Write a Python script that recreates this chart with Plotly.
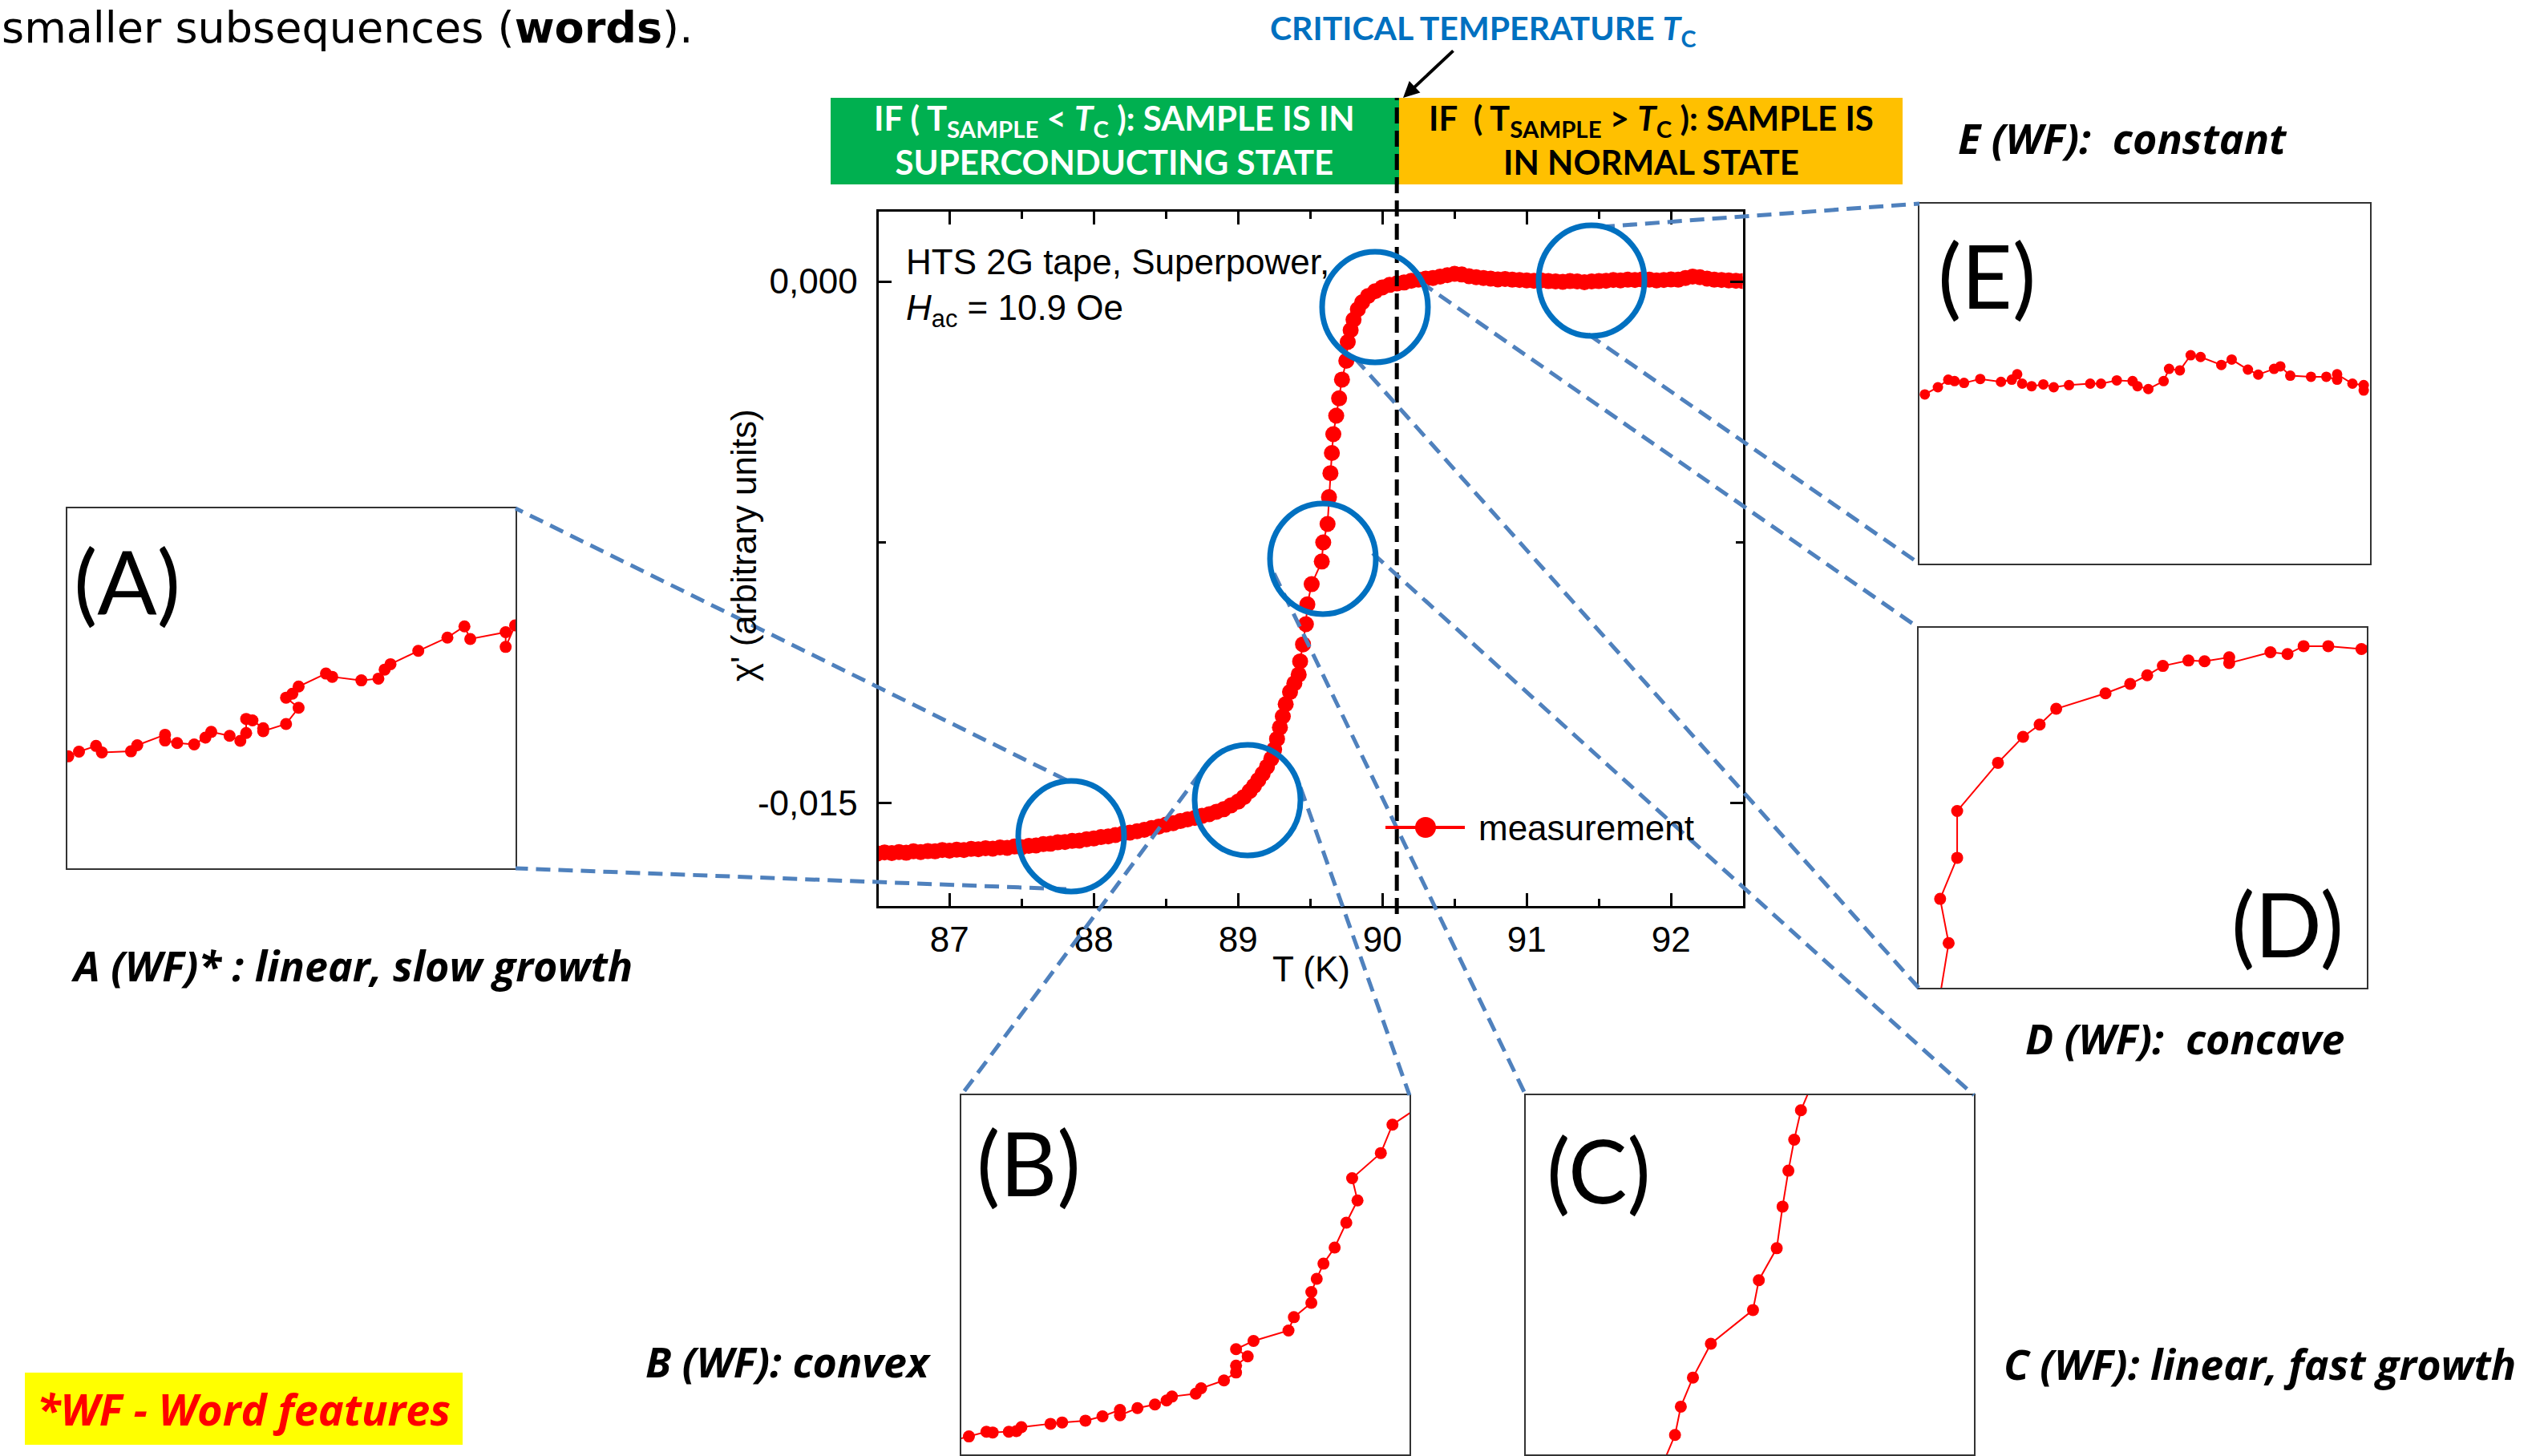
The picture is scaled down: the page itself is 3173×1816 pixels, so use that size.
import plotly.graph_objects as go

W, H = 3173, 1816

# ---------------- data ----------------
# main curve: temperature (K) and chi' (x 1e-3 arbitrary units)
T_main = [86.50, 86.55, 86.60, 86.65, 86.70, 86.75, 86.80, 86.85, 86.90, 86.95,
          87.00, 87.05, 87.10, 87.15, 87.20, 87.25, 87.30, 87.35, 87.40, 87.45,
          87.50, 87.55, 87.60, 87.65, 87.70, 87.75, 87.80, 87.85, 87.90, 87.95,
          88.00, 88.05, 88.10, 88.15, 88.20, 88.25, 88.30, 88.35, 88.40, 88.45,
          88.50, 88.55, 88.60, 88.65, 88.70, 88.75, 88.80, 88.85, 88.90, 88.95,
          89.00, 89.04, 89.08, 89.11, 89.14, 89.17, 89.20, 89.23, 89.25, 89.27,
          89.29, 89.31, 89.33, 89.36, 89.39, 89.42, 89.43, 89.45, 89.47, 89.48,
          89.51, 89.58, 89.59, 89.62, 89.63, 89.64, 89.65, 89.66, 89.68, 89.70,
          89.72, 89.75, 89.76, 89.78, 89.80, 89.83, 89.86, 89.90, 89.95, 90.00,
          90.05, 90.10, 90.15, 90.20, 90.25, 90.30, 90.35, 90.40, 90.45, 90.50,
          90.55, 90.60, 90.65, 90.70, 90.75, 90.80, 90.85, 90.90, 90.95, 91.00,
          91.05, 91.10, 91.15, 91.20, 91.25, 91.30, 91.35, 91.40, 91.45, 91.50,
          91.55, 91.60, 91.65, 91.70, 91.75, 91.80, 91.85, 91.90, 91.95, 92.00,
          92.05, 92.10, 92.15, 92.20, 92.25, 92.30, 92.35, 92.40, 92.45, 92.50]
chi_main_milli = [-16.44, -16.41, -16.43, -16.40, -16.42, -16.38, -16.40, -16.37, -16.38, -16.34,
                  -16.36, -16.33, -16.34, -16.31, -16.32, -16.29, -16.30, -16.27, -16.28, -16.24,
                  -16.26, -16.22, -16.21, -16.17, -16.16, -16.12, -16.11, -16.08, -16.07, -16.03,
                  -16.01, -15.97, -15.95, -15.91, -15.87, -15.84, -15.80, -15.76, -15.71, -15.67,
                  -15.61, -15.57, -15.51, -15.46, -15.42, -15.36, -15.31, -15.24, -15.17, -15.06,
                  -14.95, -14.82, -14.65, -14.50, -14.33, -14.15, -13.95, -13.72, -13.45, -13.15,
                  -12.82, -12.50, -12.15, -11.80, -11.55, -11.30, -10.92, -10.43, -9.85, -9.28,
                  -8.70, -8.05, -7.50, -6.97, -6.20, -5.51, -4.93, -4.39, -3.86, -3.36,
                  -2.82, -2.28, -1.74, -1.40, -1.10, -0.80, -0.60, -0.42, -0.28, -0.17,
                  -0.10, -0.06, -0.03, 0.02, 0.05, 0.08, 0.10, 0.14, 0.18, 0.22,
                  0.20, 0.15, 0.12, 0.10, 0.08, 0.06, 0.07, 0.05, 0.04, 0.03,
                  0.02, 0.03, 0.01, 0.00, -0.01, 0.01, 0.00, -0.02, 0.00, 0.01,
                  0.02, 0.04, 0.03, 0.05, 0.04, 0.06, 0.05, 0.03, 0.04, 0.06,
                  0.05, 0.10, 0.14, 0.12, 0.08, 0.05, 0.04, 0.03, 0.02, 0.01]

x_ticks = [87, 88, 89, 90, 91, 92]
y_ticks = [-0.015, 0.0]
y_tick_text = ["-0,015", "0,000"]
T_critical = 90.1
series_name = "measurement"

# zoomed windows (local units 0..100 inside each inset)
A_u = [0.2, 2.6, 6.4, 7.7, 14.2, 15.6, 21.8, 21.8, 24.5, 28.3, 30.8, 32.1, 36.2, 38.6, 39.9,
       39.9, 41.3, 43.7, 43.7, 48.8, 51.6, 48.8, 50.2, 51.6, 57.7, 59.1, 65.6, 69.4, 70.8,
       72.1, 78.3, 84.8, 88.6, 89.9, 97.8, 97.8, 99.9]
A_v = [31.1, 32.4, 34.0, 32.2, 32.5, 34.2, 37.1, 35.5, 34.8, 34.4, 36.3, 37.9, 36.8, 35.4, 37.6,
       41.5, 41.1, 38.9, 38.1, 40.1, 44.6, 47.4, 48.5, 50.5, 54.1, 53.2, 52.2, 52.7, 55.2,
       56.7, 60.4, 64.1, 67.2, 63.7, 65.6, 61.5, 67.5]

B_u = [-3.0, 1.7, 5.6, 7.0, 10.6, 12.3, 13.4, 19.9, 22.5, 27.7, 31.5, 35.4, 35.4, 39.3, 43.2,
       45.8, 47.0, 52.3, 53.5, 58.6, 61.3, 61.3, 63.9, 61.3, 65.2, 73.0, 74.2, 78.1, 78.1,
       79.3, 80.8, 83.3, 85.9, 88.4, 87.2, 93.6, 96.2, 103.0]
B_v = [3.5, 5.0, 6.3, 6.1, 6.3, 6.5, 7.6, 8.5, 8.9, 9.4, 10.6, 12.4, 10.9, 12.9, 13.9,
       15.0, 16.1, 16.9, 18.4, 20.6, 22.8, 24.7, 27.3, 29.3, 31.6, 34.5, 38.2, 42.2, 45.2,
       48.9, 53.1, 57.6, 64.5, 70.7, 76.9, 83.9, 91.8, 97.5]

C_u = [30.8, 33.3, 34.6, 37.3, 41.3, 50.7, 52.0, 56.0, 57.3, 58.6, 59.9, 61.4, 63.5]
C_v = [-2.0, 5.4, 13.3, 21.4, 30.8, 40.2, 48.5, 57.4, 69.0, 79.0, 87.6, 95.8, 102.0]

D_u = [4.8, 6.7, 4.8, 8.6, 8.6, 17.7, 23.3, 27.0, 30.7, 41.7, 47.2, 51.0, 54.5, 60.2, 63.8,
       69.3, 69.3, 78.5, 82.3, 85.9, 91.4, 98.8, 101.0]
D_v = [-2.0, 12.4, 24.7, 36.1, 49.1, 62.5, 69.7, 73.1, 77.5, 81.8, 84.4, 86.8, 89.4, 90.9, 90.7,
       91.8, 90.2, 93.2, 92.7, 94.9, 94.9, 94.1, 94.2]

E_u = [1.2, 4.1, 6.4, 7.8, 9.9, 13.5, 18.1, 20.5, 21.7, 22.8, 24.9, 27.5, 29.8, 33.2, 37.9,
       40.3, 43.8, 47.3, 48.4, 50.8, 54.2, 55.4, 57.8, 60.2, 62.4, 67.0, 69.3, 72.9, 75.2,
       78.7, 80.1, 82.3, 86.9, 90.3, 92.7, 92.7, 96.1, 98.6, 98.6]
E_v = [47.0, 49.0, 51.1, 50.7, 50.2, 51.3, 50.5, 51.1, 52.6, 50.0, 49.3, 49.8, 49.0, 49.6, 50.0,
       50.0, 50.9, 50.7, 49.3, 48.5, 50.7, 54.1, 53.7, 57.9, 57.4, 55.2, 56.7, 53.9, 52.5,
       54.1, 54.8, 52.2, 51.9, 51.9, 51.1, 52.6, 50.0, 49.6, 48.1]

# ---------------- helpers (pixel -> paper) ----------------
def fx(x):
    return x / W


def fy(y):
    return 1 - y / H


RED = "#FF0000"
BLUE_RING = "#0070C0"
BLUE_DASH = "#4F81BD"
ARIAL = "Liberation Sans, Arial"
CAL = "Lato"
CALI = "Open Sans"

fig = go.Figure()

fig.add_trace(go.Scatter(
    x=T_main, y=[v * 1e-3 for v in chi_main_milli], mode="lines+markers",
    name=series_name, showlegend=False,
    marker=dict(color=RED, size=20, line=dict(width=0)),
    line=dict(color=RED, width=2), xaxis="x", yaxis="y"))

insets = [
    ("x2", "y2", A_u, A_v, 15, (84, 643, 634, 1083)),
    ("x3", "y3", B_u, B_v, 15, (1199, 1758, 1366, 1814)),
    ("x4", "y4", C_u, C_v, 15, (1903, 2462, 1366, 1814)),
    ("x5", "y5", D_u, D_v, 15, (2393, 2952, 783, 1232)),
    ("x6", "y6", E_u, E_v, 13, (2394, 2956, 254, 703)),
]
for xa, ya, u, v, ms, _ in insets:
    fig.add_trace(go.Scatter(x=u, y=v, mode="lines+markers", showlegend=False,
                             marker=dict(color=RED, size=ms, line=dict(width=0)),
                             line=dict(color=RED, width=2), xaxis=xa, yaxis=ya))

layout = dict(
    width=W, height=H, autosize=False,
    margin=dict(l=0, r=0, t=0, b=0, pad=0),
    paper_bgcolor="white", plot_bgcolor="white",
    showlegend=False,
    xaxis=dict(domain=[fx(1095.5), fx(2173.6)], range=[86.507, 92.497],
               tickvals=x_ticks, ticks="inside", ticklen=16, tickwidth=2.5, tickcolor="black",
               minor=dict(dtick=0.5, tick0=87, ticks="inside", ticklen=9, tickwidth=2.5, tickcolor="black"),
               showline=True, linewidth=3, linecolor="black", mirror="allticks",
               showgrid=False, zeroline=False, ticklabelstandoff=1,
               tickfont=dict(family=ARIAL, size=44, color="black"), anchor="y"),
    yaxis=dict(domain=[fy(1130), fy(264)], range=[-0.01795, 0.002005],
               tickvals=y_ticks, ticktext=y_tick_text, ticks="inside", ticklen=16, tickwidth=2.5,
               tickcolor="black",
               minor=dict(dtick=0.0075, tick0=0, ticks="inside", ticklen=9, tickwidth=2.5, tickcolor="black"),
               showline=True, linewidth=3, linecolor="black", mirror="allticks",
               showgrid=False, zeroline=False, ticklabelstandoff=14,
               tickfont=dict(family=ARIAL, size=44, color="black"), anchor="x"),
)
for i, (xa, ya, u, v, ms, box) in enumerate(insets):
    n = xa[1:]
    x0, x1, y0, y1 = box
    common = dict(showline=True, mirror=True, linewidth=2, linecolor="#333333",
                  showticklabels=False, ticks="", showgrid=False, zeroline=False,
                  range=[0, 100], fixedrange=True)
    layout["xaxis" + n] = dict(domain=[fx(x0), fx(x1)], anchor="y" + n, **common)
    layout["yaxis" + n] = dict(domain=[fy(y1), fy(y0)], anchor="x" + n, **common)

fig.update_layout(**layout)

shapes = []
# banner
shapes.append(dict(type="rect", xref="paper", yref="paper", x0=fx(1036), x1=fx(1745), y0=fy(230), y1=fy(122),
                   fillcolor="#00B050", line=dict(width=0), layer="below"))
shapes.append(dict(type="rect", xref="paper", yref="paper", x0=fx(1745), x1=fx(2373), y0=fy(230), y1=fy(122),
                   fillcolor="#FFC000", line=dict(width=0), layer="below"))
# word-features box
shapes.append(dict(type="rect", xref="paper", yref="paper", x0=fx(31), x1=fx(577), y0=fy(1802), y1=fy(1712),
                   fillcolor="#FFFF00", line=dict(width=0), layer="below"))
# critical temperature line
shapes.append(dict(type="line", xref="x", yref="paper", x0=T_critical, x1=T_critical, y0=fy(1140), y1=fy(122),
                   line=dict(color="black", width=5, dash="20px,9px")))
# connectors
connectors = [
    ((1330, 973), (643, 634)), ((1330, 1109), (643, 1083)),
    ((1497, 964), (1199, 1366)), ((1622, 982), (1758, 1366)),
    ((1589, 715), (1903, 1366)), ((1712, 690), (2462, 1366)),
    ((1772, 352), (2393, 783)), ((1690, 447), (2393, 1232)),
    ((1996, 283), (2394, 254)), ((1981, 417), (2394, 703)),
]
for (a, b) in connectors:
    shapes.append(dict(type="line", xref="paper", yref="paper", x0=fx(a[0]), y0=fy(a[1]), x1=fx(b[0]), y1=fy(b[1]),
                       line=dict(color=BLUE_DASH, width=5, dash="18px,10px")))
# rings
rings = [(1336, 1043), (1556, 998), (1650, 697), (1715, 383), (1985, 350)]
for cx, cy in rings:
    shapes.append(dict(type="circle", xref="paper", yref="paper", x0=fx(cx - 66), x1=fx(cx + 66),
                       y0=fy(cy + 69), y1=fy(cy - 69), line=dict(color=BLUE_RING, width=7)))
# legend symbol
shapes.append(dict(type="line", xref="paper", yref="paper", x0=fx(1728), x1=fx(1827), y0=fy(1032), y1=fy(1032),
                   line=dict(color=RED, width=4)))
shapes.append(dict(type="circle", xref="paper", yref="paper", x0=fx(1765), x1=fx(1791), y0=fy(1045), y1=fy(1019),
                   fillcolor=RED, line=dict(color=RED, width=0)))

ann = []


def text(x, y, s, size, family=ARIAL, color="black", xanchor="left", yanchor="middle", weight="normal",
         style="normal", angle=0, align="left"):
    ann.append(dict(x=fx(x), y=fy(y), xref="paper", yref="paper", text=s, showarrow=False,
                    xanchor=xanchor, yanchor=yanchor, textangle=angle, align=align,
                    font=dict(family=family, size=size, color=color, weight=weight, style=style)))


text(0, 1, "smaller subsequences (<b>words</b>).", 54, family="DejaVu Sans", yanchor="top")
text(1850, 38, "CRITICAL TEMPERATURE <i>T</i><sub>C</sub>", 41, family=CAL, color="#0070C0",
     xanchor="center", weight="bold")
ann.append(dict(x=fx(1750), y=fy(122), xref="paper", yref="paper", text="", showarrow=True,
                ax=64, ay=-60, arrowhead=2, arrowsize=1, arrowwidth=4, arrowcolor="black"))
text(1390, 174, "IF ( T<sub>SAMPLE</sub> &lt; <i>T</i><sub>C</sub> ): SAMPLE IS IN<br>SUPERCONDUCTING STATE",
     42, family=CAL, color="white", xanchor="center", weight="bold", align="center")
text(2059, 174, "IF  ( T<sub>SAMPLE</sub> &gt; <i>T</i><sub>C</sub> ): SAMPLE IS<br>IN NORMAL STATE",
     42, family=CAL, color="black", xanchor="center", weight="bold", align="center")
text(1128, 300, "HTS 2G tape, Superpower,<br><i>H</i><sub>ac</sub> = 10.9 Oe", 44, yanchor="top")
text(1842, 1032, series_name, 44)
text(927, 680, "χ' (arbitrary units)", 44, xanchor="center", angle=-90)
text(1635, 1208, "T (K)", 44, xanchor="center")
# inset labels
text(90, 724, "(A)", 110, family=CAL)
text(1216, 1449, "(B)", 110, family=CAL)
text(1927, 1458, "(C)", 110, family=CAL)
text(2781, 1151, "(D)", 110, family=CAL)
text(2415, 342, "(E)", 110, family=CAL)
# word-feature captions
text(86, 1203, "A (WF)* : linear, slow growth", 52, family=CALI, weight="bold", style="italic")
text(803, 1697, "B (WF): convex", 52, family=CALI, weight="bold", style="italic")
text(2497, 1700, "C (WF): linear, fast growth", 52, family=CALI, weight="bold", style="italic")
text(2524, 1294, "D (WF):  concave", 52, family=CALI, weight="bold", style="italic")
text(2440, 172, "E (WF):  constant", 52, family=CALI, weight="bold", style="italic")
text(304, 1757, "*WF - Word features", 54, family=CALI, color=RED, xanchor="center", weight="bold",
     style="italic")

fig.update_layout(shapes=shapes, annotations=ann)

fig.write_html("out.html", config={"displayModeBar": False},
               post_script="document.body.style.margin='0';document.body.style.overflow='hidden';")
